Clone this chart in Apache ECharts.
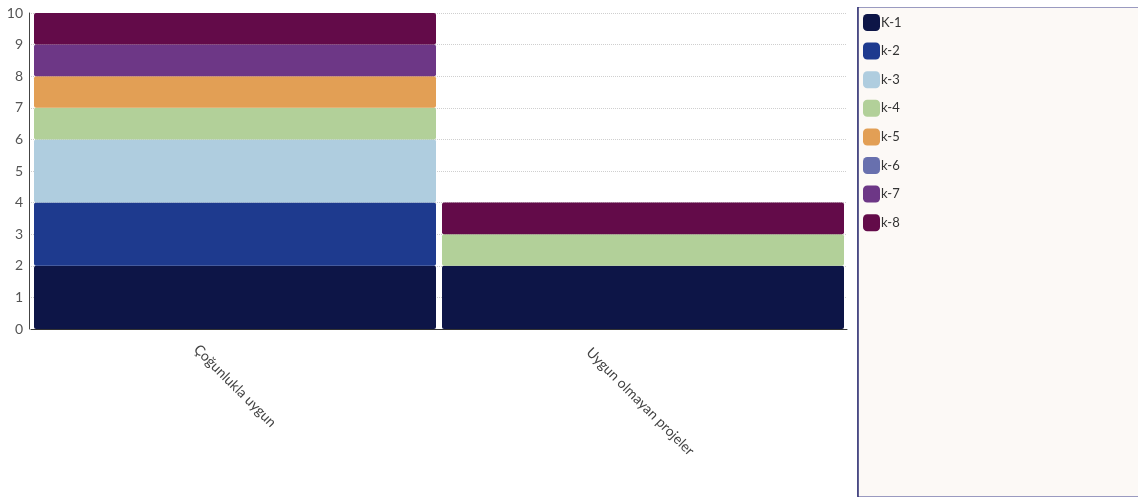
<!DOCTYPE html>
<html>
<head>
<meta charset="utf-8">
<script src="https://cdn.jsdelivr.net/npm/echarts@6/dist/echarts.min.js"></script>
<style>
html,body{margin:0;padding:0;background:#fff;}
#chart{width:1138px;height:504px;}
</style>
</head>
<body>
<div id="chart"></div>
<script>
const categories = ['Çoğunlukla uygun', 'Uygun olmayan projeler'];
const seriesNames = ['K-1', 'k-2', 'k-3', 'k-4', 'k-5', 'k-6', 'k-7', 'k-8'];
const k1 = [2, 2];
const k2 = [2, 0];
const k3 = [2, 0];
const k4 = [1, 1];
const k5 = [1, 0];
const k6 = [0, 0];
const k7 = [1, 0];
const k8 = [1, 1];
const yTicks = [0, 1, 2, 3, 4, 5, 6, 7, 8, 9, 10];

const seriesValues = [k1, k2, k3, k4, k5, k6, k7, k8];
const colors = ['#0d1547', '#1e3a8e', '#afcddf', '#b2d099', '#e29f55', '#6870ae', '#6d3786', '#630b49'];
const labelLayout = [
  { verticalAlign: 'middle', padding: [0, 0, 0, 0] },
  { verticalAlign: 'top', padding: [6, 0, 0, 18] }
];

const chart = echarts.init(document.getElementById('chart'));
const FONT = 'Lato, "Open Sans", sans-serif';

chart.setOption({
  animation: false,
  textStyle: { fontFamily: FONT },
  graphic: [
    { type: 'rect', shape: { x: 857.5, y: 7.5, width: 300, height: 489 },
      style: { fill: '#fcf9f6', stroke: '#9a9ac0', lineWidth: 1 }, z: -1 },
    { type: 'line', shape: { x1: 858, y1: 7, x2: 858, y2: 497 },
      style: { stroke: '#2c2c70', lineWidth: 1.5 }, z: 0 }
  ],
  legend: {
    orient: 'vertical',
    left: 863,
    top: 14,
    padding: 0,
    itemWidth: 17,
    itemHeight: 17,
    itemGap: 11.6,
    icon: 'roundRect',
    data: seriesNames,
    textStyle: { fontFamily: FONT, fontSize: 13, color: '#333', padding: [0, 0, 0, -4] }
  },
  grid: { left: 31, right: 291, top: 13, bottom: 175, containLabel: false },
  xAxis: {
    type: 'category',
    data: categories.map((c, i) => ({
      value: c,
      textStyle: {
        align: 'center',
        verticalAlign: labelLayout[i].verticalAlign,
        padding: labelLayout[i].padding,
        fontSize: 14,
        color: '#444',
        fontFamily: FONT
      }
    })),
    axisLine: { show: true, lineStyle: { color: '#333', width: 1 } },
    axisTick: { show: false },
    axisLabel: {
      rotate: -45,
      align: 'center',
      verticalAlign: 'middle',
      margin: 57,
      interval: 0,
      fontSize: 14,
      color: '#444',
      fontFamily: FONT
    }
  },
  yAxis: {
    type: 'value',
    min: yTicks[0],
    max: yTicks[yTicks.length - 1],
    interval: 1,
    offset: 2,
    axisLine: { show: true, lineStyle: { color: '#444', width: 1 } },
    axisTick: { show: false },
    axisLabel: { fontSize: 14, color: '#555', margin: 6, fontFamily: FONT },
    splitLine: { show: true, lineStyle: { color: '#cfcfcf', type: [1, 1], width: 1 } }
  },
  series: seriesNames.map((name, i) => ({
    name: name,
    type: 'bar',
    stack: 'total',
    barWidth: 402,
    data: seriesValues[i],
    itemStyle: { color: colors[i], borderRadius: 2 }
  }))
});
</script>
</body>
</html>
